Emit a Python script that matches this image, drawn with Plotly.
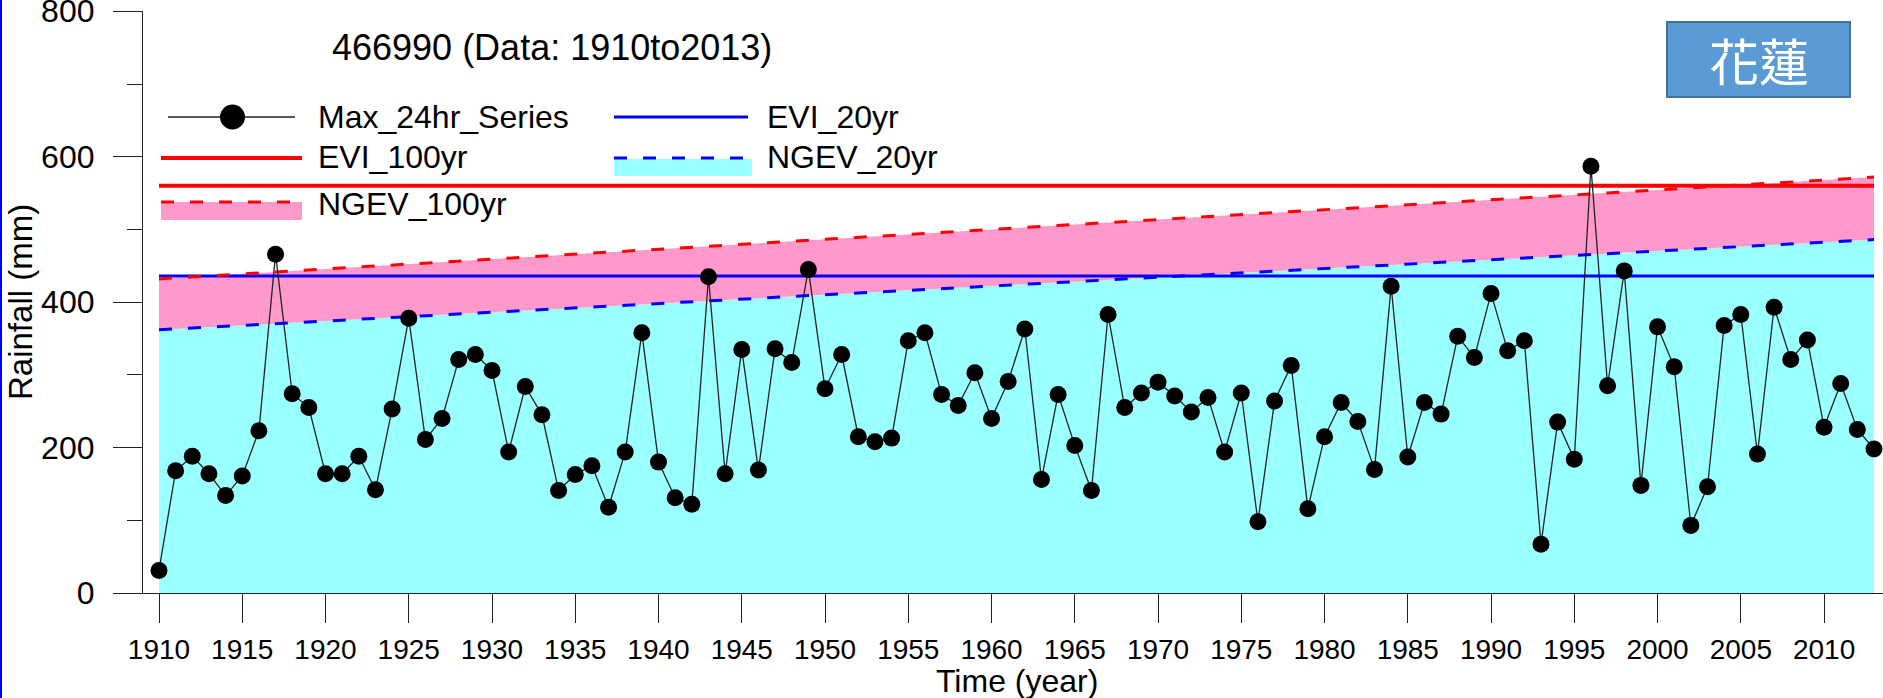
import plotly.graph_objects as go

# Annual maximum 24-hour rainfall, station 466990 (Hualien), 1910-2013
years = list(range(1910, 2014))
max_24hr = [
    31, 168, 188, 164, 134, 161, 223, 466, 274, 255,
    164, 164, 188, 142, 253, 378, 211, 240, 321, 328,
    306, 194, 284, 245, 141, 163, 175, 118, 194, 358,
    180, 131, 122, 435, 164, 335, 169, 336, 317, 445,
    281, 328, 215, 208, 213, 347, 358, 273, 258, 303,
    240, 291, 363, 156, 273, 203, 141, 383, 255, 275,
    290, 271, 249, 269, 194, 275, 98, 264, 313, 116,
    215, 262, 236, 170, 422, 187, 262, 246, 353, 324,
    412, 333, 347, 67, 235, 184, 587, 285, 443, 148,
    366, 311, 93, 146, 368, 383, 191, 393, 321, 348,
    228, 288, 225, 198,
]

# Return-level lines (stationary EVI levels, non-stationary GEV trend ends)
span_years = [1910, 2013]
evi_20yr = [436, 436]
evi_100yr = [560, 560]
ngev_20yr = [362, 486]
ngev_100yr = [432, 572]

x_ticks = list(range(1910, 2011, 5))
y_ticks = [0, 200, 400, 600, 800]

FONT = "Arial, Liberation Sans, sans-serif"
RED = "#FF0000"
BLUE = "#0000FF"
CYAN = "#99FFFF"
PINK = "#FF99CC"

FIG_W, FIG_H = 1883, 698
L, R, T, B = 143, 0, 11, 105
PW, PH = FIG_W - L - R, FIG_H - T - B


def px(x):
    return (x - L) / PW


def py(y):
    return (FIG_H - B - y) / PH


fig = go.Figure()

fig.add_trace(go.Scatter(x=span_years, y=ngev_20yr, mode="lines", fill="tozeroy",
                         fillcolor=CYAN, line=dict(width=0), hoverinfo="skip"))
fig.add_trace(go.Scatter(x=span_years, y=ngev_100yr, mode="lines", fill="tonexty",
                         fillcolor=PINK, line=dict(width=0), hoverinfo="skip"))
fig.add_trace(go.Scatter(x=span_years, y=evi_100yr, mode="lines",
                         line=dict(color=RED, width=4), name="EVI_100yr"))
fig.add_trace(go.Scatter(x=span_years, y=evi_20yr, mode="lines",
                         line=dict(color=BLUE, width=3), name="EVI_20yr"))
fig.add_trace(go.Scatter(x=span_years, y=ngev_100yr, mode="lines",
                         line=dict(color=RED, width=3, dash="13px,16px"), name="NGEV_100yr"))
fig.add_trace(go.Scatter(x=span_years, y=ngev_20yr, mode="lines",
                         line=dict(color=BLUE, width=3, dash="13px,16px"), name="NGEV_20yr"))
fig.add_trace(go.Scatter(x=years, y=max_24hr, mode="lines+markers", name="Max_24hr_Series",
                         line=dict(color="#222222", width=1.3),
                         marker=dict(color="black", size=17)))

shapes = []
annotations = []


def hline(x0, x1, y, color, width, dash="solid"):
    shapes.append(dict(type="line", xref="paper", yref="paper",
                       x0=px(x0), x1=px(x1), y0=py(y), y1=py(y),
                       line=dict(color=color, width=width, dash=dash)))


def rect(x0, x1, y0, y1, fill, line_color=None, line_width=0):
    shapes.append(dict(type="rect", xref="paper", yref="paper",
                       x0=px(x0), x1=px(x1), y0=py(y1), y1=py(y0),
                       fillcolor=fill,
                       line=dict(color=line_color or fill, width=line_width)))


def label(x, y, text, size=32, color="black", anchor="left", family=FONT):
    annotations.append(dict(xref="paper", yref="paper", x=px(x), y=py(y),
                            text=text, showarrow=False, xanchor=anchor, yanchor="middle",
                            font=dict(family=family, size=size, color=color)))


# legend keys
hline(168, 295, 117, "#222222", 1.3)
shapes.append(dict(type="circle", xref="paper", yref="paper",
                   x0=px(220), x1=px(245), y0=py(129.5), y1=py(104.5),
                   fillcolor="black", line=dict(color="black", width=0)))
label(316, 117, "Max_24hr_Series")

hline(614, 748, 117, BLUE, 3)
label(765, 117, "EVI_20yr")

hline(161, 302, 158, RED, 4)
label(316, 157, "EVI_100yr")

rect(614, 752, 159, 176, CYAN)
hline(614, 748, 158, BLUE, 3, "13px,16px")
label(765, 157, "NGEV_20yr")

rect(161, 302, 202, 220, PINK)
hline(161, 300, 202, RED, 3, "13px,16px")
label(316, 204, "NGEV_100yr")

# title and station badge
label(330, 47, "466990 (Data: 1910to2013)", size=36)
rect(1667, 1850, 22, 97, "#5B9BD5", "#41719C", 2)
label(1759, 59, "花蓮", size=50, color="white", anchor="center",
      family="Noto Sans CJK TC, Noto Sans CJK SC, sans-serif")

# axis titles
annotations.append(dict(xref="paper", yref="paper", x=px(20), y=py(302),
                        text="Rainfall (mm)", showarrow=False, textangle=-90,
                        xanchor="center", yanchor="middle",
                        font=dict(family=FONT, size=33, color="black")))
label(1017, 681, "Time (year)", size=32, anchor="center")

# thin blue frame edge on the left
shapes.append(dict(type="line", xref="paper", yref="paper",
                   x0=px(1), x1=px(1), y0=py(0), y1=py(FIG_H),
                   line=dict(color=BLUE, width=2)))

fig.update_layout(
    width=FIG_W, height=FIG_H, autosize=False,
    margin=dict(l=L, r=R, t=T, b=B, pad=0),
    paper_bgcolor="white", plot_bgcolor="white",
    showlegend=False,
    shapes=shapes, annotations=annotations,
    font=dict(family=FONT, color="black"),
)

fig.update_xaxes(
    range=[1910 - 16 / 16.65, 2013 + 9 / 16.65],
    tickmode="array", tickvals=x_ticks, ticktext=[str(v) for v in x_ticks],
    ticks="outside", ticklen=29, tickwidth=1.2, tickcolor="#222222",
    showline=True, linecolor="#222222", linewidth=1.2,
    showgrid=False, zeroline=False, automargin=False,
    tickfont=dict(family=FONT, size=28, color="black"),
    ticklabelstandoff=2, ticklabeloverflow="allow",
)
fig.update_yaxes(
    range=[0, 800.4],
    tickmode="array", tickvals=y_ticks, ticktext=[str(v) for v in y_ticks],
    ticks="outside", ticklen=29, tickwidth=1.2, tickcolor="#222222",
    minor=dict(tickmode="array", tickvals=[100, 300, 500, 700], ticks="outside",
               ticklen=15, tickwidth=1.2, tickcolor="#222222", showgrid=False),
    showline=True, linecolor="#222222", linewidth=1.2,
    showgrid=False, zeroline=False, automargin=False,
    tickfont=dict(family=FONT, size=32, color="black"),
    ticklabelstandoff=12, ticklabeloverflow="allow",
)

fig.write_html("out.html")
